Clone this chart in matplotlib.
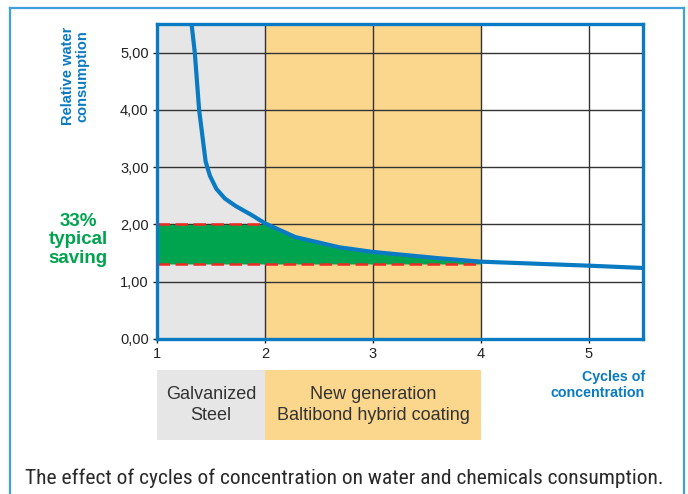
import numpy as np
import matplotlib
matplotlib.use("Agg")
import matplotlib.pyplot as plt
from matplotlib import font_manager
from matplotlib.lines import Line2D
from matplotlib.patches import Rectangle
import matplotlib.transforms as mtransforms

plt.rcParams['font.family'] = ['Liberation Sans', 'DejaVu Sans']

# values
cycles = [1.32, 1.35, 1.39, 1.45, 1.49, 1.55, 1.63, 1.73, 1.88, 2.0, 2.28, 2.69, 3.0, 3.61, 4.0, 5.0, 5.5]
consumption = [5.5, 5.0, 4.0, 3.1, 2.85, 2.62, 2.45, 2.32, 2.16, 2.02, 1.78, 1.60, 1.52, 1.41, 1.35, 1.28, 1.24]
old_level = 2.0       # galvanized steel
new_level = 1.31      # new coating
zones = [(1, 2, 'Galvanized\nSteel', '#e6e6e6'),
         (2, 4, 'New generation\nBaltibond hybrid coating', '#fbd68d')]
yticks = [0, 1, 2, 3, 4, 5]
xticks = [1, 2, 3, 4, 5]
caption = 'The effect of cycles of concentration on water and chemicals consumption.'

blue = '#0a7bc2'
green = '#00a44f'
red = '#ee2a24'

fig = plt.figure(figsize=(6.88, 4.94), dpi=100)
ax = fig.add_axes([0.2282, 0.3138, 0.7064, 0.6376])

# background zones
for x0, x1, label, col in zones:
    ax.axvspan(x0, x1, color=col, zorder=0, lw=0)

ax.set_xlim(1, 5.5)
ax.set_ylim(0, 5.5)
ax.set_yticks(yticks)
ax.set_yticklabels([f'{v:.2f}'.replace('.', ',') for v in yticks])
ax.set_xticks(xticks)
ax.grid(True, color='#333333', lw=1.0, zorder=1)
ax.tick_params(axis='both', labelsize=10.5, colors='#222222', length=3, width=1, pad=3)
for s in ax.spines.values():
    s.set_color(blue)
    s.set_linewidth(2.4)
    s.set_zorder(5)

# saving area
cx = np.array([1.0] + [c for c in cycles if c <= 4.0])
cy = np.array([old_level] + [v for c, v in zip(cycles, consumption) if c <= 4.0])
ax.fill_between(cx, new_level, np.minimum(cy, old_level), color=green, lw=0, zorder=2)

ax.plot([1, 2], [old_level, old_level], color=red, lw=1.8, ls=(0, (5, 2.2)), zorder=3)
ax.plot([1, 4], [new_level, new_level], color=red, lw=1.8, ls=(0, (5, 2.2)), zorder=3)

ax.plot(cycles, consumption, color=blue, lw=3, zorder=4, solid_joinstyle='round')

# zone boxes under the chart
trans = mtransforms.blended_transform_factory(ax.transData, ax.transAxes)
for x0, x1, label, col in zones:
    ax.add_patch(Rectangle((x0, -0.3206), x1 - x0, 0.2222, transform=trans,
                           color=col, lw=0, clip_on=False))
    ax.text((x0 + x1) / 2, -0.2095, label, transform=trans, ha='center', va='center',
            fontsize=13, color='#333333', linespacing=1.3)

fig.text(75 / 688, 1 - 76 / 494, 'Relative water\nconsumption', rotation=90,
         ha='center', va='center', color=blue, fontsize=10.5, fontweight='bold', linespacing=1.0)
fig.text(78 / 688, 1 - 240 / 494, '33%\ntypical\nsaving', ha='center', va='center',
         color=green, fontsize=13.5, fontweight='bold', linespacing=1.15)
fig.text(645 / 688, 1 - 385 / 494, 'Cycles of\nconcentration', ha='right', va='center',
         color=blue, fontsize=10.3, fontweight='bold', linespacing=1.2)

# caption: use a narrow face if one is installed, then fit it to the frame width
names = {f.name for f in font_manager.fontManager.ttflist}
cap_family = 'DejaVu Sans'
for cand in ['Liberation Sans Narrow', 'Roboto Condensed', 'Open Sans Condensed', 'Noto Sans Condensed']:
    if cand in names:
        cap_family = cand
        break
cap = fig.text(25 / 688, 1 - 484 / 494, caption, ha='left', va='baseline',
               color='#2a2a2a', fontsize=15, family=[cap_family])
fig.canvas.draw()
w = cap.get_window_extent().width
cap.set_fontsize(15 * 640 / w)

# outer frame
frame = '#3fa0dc'
fig.add_artist(Line2D([10 / 688, 10 / 688], [0, 1 - 8 / 494], color=frame, lw=1.6))
fig.add_artist(Line2D([10 / 688, 684 / 688], [1 - 8 / 494, 1 - 8 / 494], color=frame, lw=1.6))
fig.add_artist(Line2D([684 / 688, 684 / 688], [0, 1 - 8 / 494], color=frame, lw=1.6))

fig.savefig('out.png', dpi=100)
